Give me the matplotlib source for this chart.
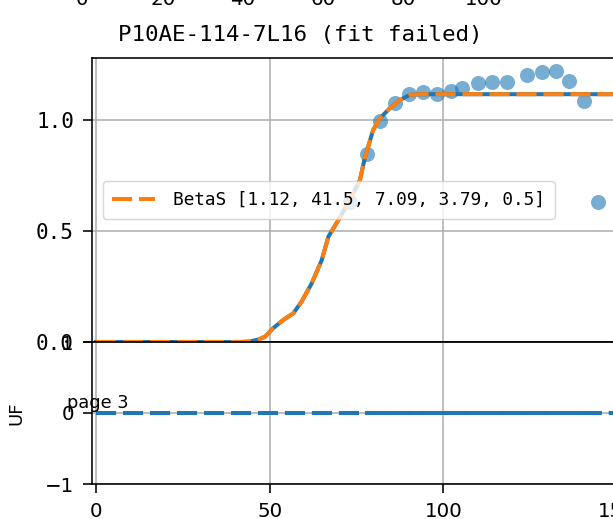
import matplotlib.pyplot as plt

W, H = 613, 519

title = "P10AE-114-7L16 (fit failed)"
fit_label = "BetaS [1.12, 41.5, 7.09, 3.79, 0.5]"

# fitted curve
fit_x = [0, 41.5, 44.3, 46.9, 48.7, 51.0, 53.9, 56.8, 59.2, 62.1, 65.0, 66.9,
         69.8, 73.1, 76.0, 77.4, 79.8, 81.8, 84.6, 87.5, 90.4, 93.3, 160]
fit_y = [0, 0, 0.002, 0.012, 0.024, 0.062, 0.099, 0.129, 0.182, 0.264, 0.369, 0.474,
         0.550, 0.640, 0.730, 0.829, 0.955, 1.008, 1.053, 1.090, 1.113, 1.116, 1.116]

# measured points
pt_x = [73.1, 78.1, 81.9, 86.2, 90.1, 94.1, 98.1, 102.3, 105.3, 110.1,
        114.1, 118.2, 124.2, 128.3, 132.4, 136.2, 140.4, 144.4]
pt_y = [0.63, 0.845, 0.997, 1.075, 1.116, 1.127, 1.116, 1.132, 1.145, 1.168,
        1.170, 1.170, 1.203, 1.218, 1.222, 1.177, 1.086, 0.632]

# UF panel
uf_x = [0, 160]
uf_y = [0, 0]
uf_pts_x = pt_x[1:]
uf_pts_y = [0] * len(uf_pts_x)

top_ticks = [0, 20, 40, 60, 80, 100]

mono = "DejaVu Sans Mono"
plt.rcParams["font.family"] = "DejaVu Sans"
plt.rcParams["axes.linewidth"] = 1.15

fig = plt.figure(figsize=(W / 100, H / 100), dpi=100)

def box(l, t, r, b):
    return [l / W, 1 - b / H, (r - l) / W, (b - t) / H]

ax = fig.add_axes(box(92, 58, 650, 342))
ax2 = fig.add_axes(box(92, 342, 650, 484))
axt = fig.add_axes(box(62.4, -200, 504, -29))

lw = 2.9
dash = (0, (5.0, 1.7))

# upper panel (only the bottom of its tick labels shows)
axt.set_xlim(-5, 105)
axt.set_xticks(top_ticks)
axt.set_yticks([])
axt.tick_params(labelsize=14.3, length=6.5, width=1.15, pad=7)

# main panel
ax.scatter(pt_x, pt_y, s=117, color="C0", alpha=0.6, linewidths=0, zorder=2)
ax.plot(fit_x, fit_y, color="C0", lw=lw, zorder=3)
ax.plot(fit_x, fit_y, color="C1", lw=lw, linestyle=dash, label=fit_label, zorder=4)
ax.set_xlim(-1.15, 159.5)
ax.set_ylim(0, 1.279)
ax.set_xticks([0, 50, 100, 150])
ax.set_yticks([0, 0.5, 1.0])
ax.tick_params(axis="x", labelbottom=False, length=0)
ax.tick_params(axis="y", labelsize=15, length=6.5, width=1.15, pad=6.5)
for t in ax.get_yticklabels():
    t.set_fontfamily(mono)
ax.grid(True, color="#b0b0b0", lw=1.15)
ax.set_axisbelow(True)
ax.set_title(title, x=(300 - 92) / (650 - 92), pad=12, fontsize=16.2, fontfamily=mono)
leg = ax.legend(loc="center left", prop={"family": mono, "size": 12.8},
                handlelength=2.4, handletextpad=1.0, borderpad=0.55,
                borderaxespad=0.6)

# UF panel
ax2.plot(uf_x, uf_y, color="C0", lw=lw, linestyle=dash)
ax2.plot(uf_pts_x, uf_pts_y, color="C0", lw=lw)
ax2.set_xlim(-1.15, 159.5)
ax2.set_ylim(-1, 1)
ax2.set_xticks([0, 50, 100, 150])
ax2.set_yticks([-1, 0, 1])
ax2.tick_params(labelsize=14.3, length=6.5, width=1.15, pad=6.5)
ax2.grid(True, color="#b0b0b0", lw=1.15)
ax2.set_axisbelow(True)
ax2.set_ylabel("UF", fontsize=13, labelpad=4)
ax2.yaxis.set_label_coords(-(92 - 25) / (650 - 92), 0.5)
ax2.patch.set_alpha(0)

fig.text(66.7 / W, 1 - 408 / H, "page 3", fontsize=12.8, ha="left", va="baseline")

fig.savefig("out.png", dpi=100)
